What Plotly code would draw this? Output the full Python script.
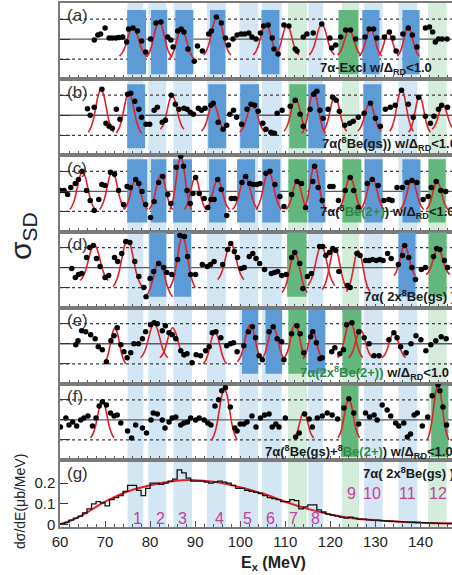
import plotly.graph_objects as go

# ---------------- data ----------------
band_lo = [75.0, 79.6, 85.2, 92.6, 99.8, 104.8, 110.6, 115.1, 122.6, 127.5, 135.1, 141.7]
band_hi = [78.5, 83.6, 89.3, 96.8, 104.0, 109.2, 114.8, 118.4, 126.4, 131.6, 139.3, 145.8]
band_kind = ["b", "b", "b", "b", "b", "b", "g", "b", "g", "b", "b", "g"]
band_num = ["1", "2", "3", "4", "5", "6", "7", "8", "9", "10", "11", "12"]
num_x = [77.1, 82.2, 87.1, 95.3, 101.6, 106.7, 111.8, 116.7, 124.7, 129.3, 137.1, 144.0]
num_y = [0.03, 0.03, 0.03, 0.03, 0.03, 0.03, 0.03, 0.03, 0.15, 0.15, 0.15, 0.15]

# dots (E, sigma) per panel
a_pts = [(67.6, -0.05), (68.4, 0.2), (69.0, 0.25), (70.0, 0.55), (70.9, 0.05), (71.6, 0.05), (72.4, 0.05),
         (73.1, 0.08), (73.9, 0.1), (74.8, -0.15), (75.2, 0.5), (76.2, 0.55), (77.2, 0.4), (78.1, -0.1),
         (79.0, -0.65), (80.1, 0.0), (81.3, 0.8), (82.4, 0.85), (83.9, 0.1), (84.6, -0.05), (85.1, -0.4),
         (86.1, 0.4), (86.9, 0.5), (87.5, 0.35), (88.4, -0.5), (89.8, -1.1), (90.5, -0.35), (91.6, -0.6),
         (93.0, 0.25), (93.6, 0.4), (94.7, 1.1), (95.8, 0.8), (96.7, 0.05), (97.4, -0.3), (98.4, 0.0),
         (99.3, 0.2), (100.2, 0.25), (101.0, 0.25), (101.9, 0.3), (102.6, 0.1), (103.5, 0.0), (104.5, 0.3),
         (105.2, 0.65), (106.2, 0.7), (107.1, 0.05), (107.5, -0.5), (108.4, -0.75), (109.7, 0.7),
         (110.8, 0.65), (112.2, -0.5), (112.6, -0.6), (114.0, 0.1), (114.8, 0.25), (116.2, 0.3),
         (118.1, 0.75), (119.9, 0.05), (120.3, -0.45), (121.2, -0.3), (122.3, 0.1), (123.4, 0.45),
         (124.5, 0.45), (125.6, 0.0), (127.7, 0.1), (128.6, 0.5), (129.6, 0.5), (130.3, 0.05), (132.0, 0.1),
         (133.1, 0.35), (133.9, 0.05), (134.6, -0.6), (136.1, 0.25), (137.3, 0.55), (138.2, 0.2),
         (139.2, -0.4), (141.1, 0.55), (142.0, 0.6), (142.7, 0.35), (143.3, -0.15), (144.0, 0.0),
         (144.8, 0.0), (145.9, 0.0)]
b_pts = [(66.1, 0.33), (66.7, 0.0), (67.6, 0.4), (69.3, 1.3), (70.2, -0.4), (70.9, -0.55), (71.6, -0.65),
         (72.5, 0.3), (73.3, -0.2), (75.0, 1.05), (75.7, 1.1), (76.6, 0.7), (77.5, 0.3), (78.1, -0.1),
         (79.1, -0.45), (79.9, -0.45), (80.9, 0.25), (81.6, 0.4), (82.7, -0.35), (83.4, -0.25), (84.7, 1.0),
         (85.6, 0.55), (86.4, 0.3), (87.5, 0.35), (88.2, 0.3), (88.9, 0.15), (89.6, 0.05), (90.7, 0.35),
         (91.4, 0.25), (92.2, 0.35), (93.5, 0.5), (94.0, 0.6), (95.1, -0.35), (96.2, -0.7), (97.0, -0.5),
         (97.7, 0.05), (98.5, 0.25), (99.2, -0.1), (100.3, -0.45), (101.5, 0.3), (102.4, 0.55), (103.2, 0.5),
         (104.0, 0.2), (105.0, -0.4), (105.7, -0.7), (106.8, -0.85), (107.6, -0.9), (108.2, 0.1),
         (109.3, 0.25), (111.1, 0.45), (112.2, 0.75), (113.3, 0.05), (114.0, -0.55), (115.5, 0.3),
         (116.3, 1.05), (117.0, 1.2), (117.7, 0.25), (118.4, -0.15), (119.5, 0.3), (120.5, 0.9),
         (121.3, 0.75), (122.0, 0.2), (123.2, -0.5), (124.3, -0.4), (125.1, -0.3), (126.2, -0.1),
         (127.5, 0.1), (128.9, 0.6), (130.0, -0.15), (131.1, -0.55), (132.2, 0.3), (133.3, 0.4),
         (134.4, 0.5), (135.8, 1.25), (137.3, 0.55), (138.4, -0.1), (139.6, 0.9), (141.1, -0.05),
         (142.2, -0.4), (143.0, -0.05), (144.0, 0.3), (144.7, 0.5), (146.0, 0.4)]
c_pts = [(60.1, 0.05), (60.9, 0.05), (61.7, -0.15), (62.4, 0.2), (63.4, 0.4), (64.1, 0.6), (64.9, 1.0),
         (65.9, 0.05), (66.7, -0.45), (67.6, -0.95), (68.6, -0.4), (69.3, 0.35), (70.0, 0.3), (71.2, 0.95),
         (72.1, 0.85), (73.0, 0.05), (74.1, -0.65), (74.9, 0.25), (75.6, 0.2), (76.8, 0.6), (77.5, 0.4),
         (78.2, 0.0), (79.0, -0.65), (80.1, -1.3), (80.9, -0.5), (81.9, 0.45), (82.8, 0.75), (83.9, -0.15),
         (84.6, -0.6), (85.8, 1.2), (86.8, 1.75), (87.4, 1.25), (88.2, 0.05), (88.9, -0.6), (89.5, -0.1),
         (90.1, 0.7), (90.9, -0.1), (92.0, -0.35), (92.8, -0.8), (93.5, -0.4), (94.2, -0.4), (95.0, 0.6),
         (95.8, 0.1), (97.0, -1.2), (98.0, -0.35), (98.8, -0.35), (100.4, 0.45), (101.2, 0.75),
         (102.1, 0.4), (102.9, 0.35), (103.7, 0.35), (104.4, 0.4), (105.7, 0.9), (106.6, 1.0),
         (107.7, 0.35), (108.8, -0.25), (109.7, -0.75), (111.4, -0.15), (112.6, 0.5), (113.6, 0.4),
         (114.5, -0.8), (116.1, 0.5), (116.5, 1.25), (117.3, 0.2), (118.2, -0.45), (119.9, 0.25),
         (120.6, 0.25), (121.8, -0.45), (123.3, 0.05), (124.4, 0.7), (125.2, 0.05), (126.2, -0.8),
         (128.2, 0.4), (129.3, 0.6), (130.6, 0.3), (131.9, -0.45), (133.0, -0.4), (133.7, -0.45),
         (134.8, 0.2), (136.0, 0.2), (137.0, 0.45), (138.1, 0.55), (139.2, 0.45), (140.6, -0.4),
         (141.7, -0.25), (142.4, 0.2), (143.5, 0.5), (144.5, 0.05), (145.6, 0.0)]
d_pts = [(62.6, -0.05), (63.4, -0.5), (64.1, -0.35), (64.8, -0.3), (65.9, 0.5), (66.6, 1.0), (67.4, 1.1),
         (68.1, 0.45), (68.9, 0.05), (70.0, -0.5), (70.8, -0.4), (72.1, 0.5), (72.8, 0.3), (73.7, 0.7),
         (74.6, 1.3), (75.5, 1.25), (76.6, 0.3), (77.5, -0.45), (78.6, -1.0), (79.1, -1.45), (80.0, -0.55),
         (80.8, -0.2), (81.9, 0.2), (83.0, 0.0), (83.7, -0.25), (84.8, -0.35), (86.1, 0.4), (86.6, 1.6),
         (87.6, 1.55), (88.3, 0.55), (89.0, -0.35), (90.1, -0.35), (91.6, 0.15), (92.7, 0.05), (93.4, 0.15),
         (94.2, 0.3), (96.1, 0.15), (97.2, 0.9), (97.9, 1.2), (98.7, 0.8), (99.4, 0.5), (100.2, -0.05),
         (100.9, 0.0), (102.0, 0.55), (102.8, 0.7), (103.5, 0.45), (104.3, 0.2), (105.4, -0.1),
         (106.9, -0.3), (107.6, -0.25), (108.3, -0.2), (109.2, -0.4), (110.2, -0.35), (111.4, 0.5),
         (112.1, 0.75), (113.2, 0.2), (113.9, -1.05), (114.9, -0.45), (115.8, -0.3), (117.6, 1.05),
         (118.3, 1.05), (119.0, 0.6), (119.8, 0.75), (120.5, 0.95), (121.2, 0.85), (121.9, -0.2),
         (123.8, -0.9), (124.4, -1.0), (125.9, 0.7), (126.6, 0.6), (127.8, 0.35), (128.6, 0.35),
         (129.4, 0.4), (130.2, 0.35), (131.0, 0.4), (131.7, 0.35), (132.7, 0.7), (133.5, 0.45),
         (135.1, 0.15), (136.0, 0.6), (136.5, 1.1), (137.4, 0.5), (138.1, 0.0), (138.9, -0.6),
         (140.2, -0.1), (141.1, 0.0), (142.9, 0.55), (143.6, 0.95), (144.3, 0.9), (145.3, 0.35), (146.0, 0.0)]
e_pts = [(63.5, -0.05), (64.0, 0.15), (64.8, 0.65), (65.7, 0.6), (66.8, 0.45), (67.8, 0.25), (68.5, -0.15),
         (69.4, -0.3), (70.3, -0.9), (71.3, 0.15), (72.0, 0.4), (72.7, 0.8), (73.5, -0.05), (74.2, -0.4),
         (74.9, -0.7), (75.7, -0.45), (76.4, 0.0), (77.4, 0.0), (78.3, 0.25), (79.0, 0.6), (80.1, 0.95),
         (80.9, 1.05), (81.6, 1.0), (82.7, 0.65), (83.4, 0.9), (84.2, 0.55), (84.9, 0.45), (85.7, 0.25),
         (86.8, -0.35), (87.5, -0.55), (88.2, -0.5), (89.3, -0.95), (90.2, -0.55), (91.2, -0.6),
         (92.3, -0.35), (93.1, -0.15), (93.8, 0.55), (94.6, 0.6), (95.7, 0.3), (97.0, -0.1), (97.8, 0.0),
         (98.5, 0.05), (99.3, -0.4), (100.8, -0.1), (101.8, 0.6), (102.7, 0.85), (103.4, 0.3), (104.2, -0.6),
         (104.9, -0.8), (106.4, 0.6), (107.3, 0.85), (108.2, 0.25), (109.2, 0.1), (109.7, -0.8),
         (111.4, 0.5), (112.6, 0.9), (113.3, 0.5), (114.1, -0.45), (115.6, 0.35), (116.1, 0.6),
         (116.9, 0.05), (117.7, -0.75), (118.2, -0.7), (120.3, -0.4), (121.0, -0.2), (122.1, -0.5),
         (122.9, -0.3), (123.6, 0.95), (124.8, 1.05), (126.3, 0.6), (127.5, 0.3), (128.6, 0.0),
         (129.7, -0.6), (130.8, -0.6), (133.0, 0.2), (134.1, 0.55), (134.8, 0.3), (135.6, -0.15),
         (136.8, -0.45), (137.9, 0.0), (139.0, 0.4), (140.1, 0.2), (141.2, -0.35), (142.3, -0.05),
         (143.4, 0.15), (144.6, 0.35), (145.7, 0.25)]
f_pts = [(60.1, -0.35), (61.3, 0.1), (62.0, -0.25), (62.8, -0.1), (63.7, -0.3), (64.6, 0.0), (65.3, 0.1),
         (66.2, 0.2), (67.2, -0.3), (68.0, 0.1), (68.7, 0.7), (69.4, 0.9), (70.3, 0.75), (71.2, 0.35),
         (72.0, 0.2), (72.7, 0.25), (73.5, -0.15), (75.0, -0.55), (75.9, -0.9), (76.8, -0.25), (78.3, -0.4),
         (79.2, -0.65), (80.2, 0.0), (80.7, 0.35), (81.6, 0.3), (82.7, 0.0), (83.3, -0.4), (84.2, -0.1),
         (84.9, 0.1), (85.7, 0.15), (86.8, -0.25), (87.5, -0.15), (88.3, -0.1), (89.0, 0.1), (90.1, 0.0),
         (90.9, 0.1), (92.0, 0.0), (92.8, -0.15), (93.5, -0.25), (94.4, 0.7), (95.2, 1.0), (95.9, 1.45),
         (96.7, 1.6), (97.8, 0.65), (98.8, -0.4), (99.3, -0.55), (100.0, -0.2), (100.8, -0.2),
         (101.5, -0.1), (102.6, 0.2), (103.5, -0.35), (104.5, 0.1), (105.4, 0.25), (106.4, 0.3),
         (107.1, -0.35), (107.9, -0.2), (108.6, -0.35), (110.0, 0.1), (112.3, -0.85), (113.1, -0.65),
         (114.3, 0.3), (115.3, 0.05), (116.0, -0.35), (117.1, 0.1), (118.2, 0.2), (119.3, 0.35),
         (120.4, 0.25), (121.6, 0.05), (123.0, 0.6), (124.1, 1.05), (125.2, 0.35), (126.3, -0.2),
         (127.8, 0.35), (128.7, 0.15), (129.7, 0.25), (130.4, 0.0), (131.5, 0.75), (132.6, 0.5),
         (133.4, 0.2), (134.5, -0.15), (135.2, -0.3), (136.3, -0.15), (137.1, -0.85), (137.8, -0.7),
         (138.6, 0.25), (139.3, 0.35), (140.4, -0.3), (141.6, 0.15), (142.6, 1.2), (143.9, 1.75),
         (144.3, 1.45), (145.0, 0.65), (145.8, -0.25)]

# fitted peaks per panel: (centre E, top, foot, half-width)
a_peaks = [(76.2, 0.6, -0.85, 3.0), (82.0, 0.9, -0.9, 2.8), (87.0, 0.5, -1.0, 2.8), (94.9, 1.15, -0.8, 3.0),
           (105.7, 0.75, -0.8, 2.8), (110.4, 0.7, -0.8, 2.6), (118.1, 0.75, -0.8, 2.8), (124.2, 0.45, -0.8, 2.6),
           (128.9, 0.5, -0.85, 2.5), (132.9, 0.35, -0.8, 2.2), (137.3, 0.6, -0.85, 2.4)]
b_peaks = [(69.1, 1.3, -0.85, 2.8), (75.3, 1.1, -0.9, 2.8), (84.9, 1.0, -0.7, 2.6), (94.0, 0.6, -0.8, 2.6),
           (102.7, 0.55, -0.85, 2.8), (112.3, 0.8, -0.8, 2.6), (116.3, 1.2, -0.9, 2.6), (121.0, 0.95, -0.8, 2.6),
           (128.7, 0.6, -0.8, 2.6), (135.8, 1.3, -0.8, 2.6), (139.8, 0.95, -0.85, 2.4), (145.0, 0.5, -0.7, 2.4)]
c_peaks = [(65.0, 1.0, -0.9, 2.8), (71.6, 1.0, -0.9, 2.8), (76.8, 0.6, -0.9, 2.6), (82.4, 0.85, -0.9, 2.6),
           (86.8, 1.75, -0.9, 2.4), (90.0, 0.7, -0.9, 2.4), (95.0, 0.6, -0.9, 2.6), (101.1, 0.75, -0.9, 2.8),
           (106.3, 1.0, -0.9, 2.8), (112.6, 0.5, -0.9, 2.4), (116.5, 1.3, -0.9, 2.4), (124.4, 0.7, -0.9, 2.6),
           (129.3, 0.7, -0.9, 2.6), (138.1, 0.55, -0.9, 2.6), (143.7, 0.5, -0.9, 2.4)]
d_peaks = [(67.6, 1.15, -0.65, 3.1), (75.0, 1.4, -0.95, 3.2), (82.0, 0.3, -1.45, 3.0), (87.2, 1.55, -1.0, 2.8),
           (97.9, 1.2, -0.6, 2.9), (112.1, 0.75, -1.25, 2.8), (118.0, 1.1, -0.9, 3.0), (121.0, 1.0, -1.1, 2.8),
           (126.2, 0.85, -1.2, 2.6), (136.5, 1.1, -0.4, 2.4), (143.9, 0.95, -0.35, 2.6)]
e_peaks = [(72.2, 0.8, -1.0, 2.4), (80.9, 1.0, -0.7, 3.0), (85.0, 0.8, -0.7, 2.8), (94.4, 0.6, -1.0, 2.6),
           (102.2, 0.95, -0.9, 2.8), (107.3, 0.85, -0.8, 2.6), (112.2, 1.0, -0.7, 2.4), (116.1, 0.6, -0.75, 2.2),
           (124.4, 1.1, -0.7, 2.8), (126.7, 0.7, -0.7, 2.6), (134.1, 0.55, -0.7, 2.6)]
f_peaks = [(69.4, 0.95, -0.9, 2.6), (96.5, 1.55, -1.0, 2.8), (114.1, 0.4, -0.9, 2.2), (124.1, 1.05, -0.9, 2.4),
           (143.9, 1.75, -1.0, 2.4)]

# darker highlighted regions per panel: (E from, E to, colour kind)
a_rects = [(74.9, 79.1, "b"), (80.2, 83.8, "b"), (85.6, 89.6, "b"), (93.3, 96.7, "b"), (104.7, 108.7, "b"),
           (121.8, 126.2, "g"), (127.1, 130.9, "b"), (136.0, 139.8, "b")]
b_rects = [(74.9, 78.9, "b"), (92.9, 96.9, "b"), (100.0, 104.2, "b"), (110.9, 114.7, "g"), (115.1, 118.9, "b"),
           (127.3, 131.3, "b")]
c_rects = [(74.9, 79.4, "b"), (80.2, 83.6, "b"), (85.1, 89.3, "b"), (93.1, 96.9, "b"), (99.3, 103.3, "b"),
           (104.9, 108.9, "b"), (110.7, 114.9, "g"), (115.1, 118.9, "b"), (122.7, 126.9, "g"), (127.6, 131.6, "b"),
           (136.0, 140.0, "b"), (141.8, 145.6, "g")]
d_rects = [(79.8, 83.6, "b"), (85.3, 89.1, "b"), (110.4, 114.7, "g"), (135.1, 138.9, "b"), (141.8, 145.8, "g")]
e_rects = [(100.4, 104.0, "b"), (105.6, 109.3, "b"), (110.7, 114.7, "g"), (115.1, 118.9, "b"), (122.7, 126.9, "g")]
f_rects = [(122.4, 126.2, "g"), (142.4, 146.2, "g")]

panel_tags = ["(a)", "(b)", "(c)", "(d)", "(e)", "(f)", "(g)"]
GREEN = "#2f8a45"
panel_titles = [
    "7α-Excl w/Δ<sub>RD</sub>&lt;1.0",
    "7α(<sup>8</sup>Be(gs)) w/Δ<sub>RD</sub>&lt;1.0",
    "7α(<sup>8</sup><span style='color:%s'>Be(2+)</span>) w/Δ<sub>RD</sub>&lt;1.0" % GREEN,
    "7α( 2x<sup>8</sup>Be(gs) )",
    "<span style='color:%s'>7α(2x<sup>8</sup>Be(2+))</span> w/Δ<sub>RD</sub>&lt;1.0" % GREEN,
    "7α(<sup>8</sup>Be(gs)+<sup>8</sup><span style='color:%s'>Be(2+)</span>) w/Δ<sub>RD</sub>&lt;1.0" % GREEN,
    "7α( 2x<sup>8</sup>Be(gs) )",
]
title_x = [318, 320, 318, 362, 298, 263, 361]      # px left edge of text
title_y = [0.145, 0.15, 0.256, 0.154, 0.142, 0.105, 0.806]

# panel (g): cross-section histogram (1 MeV bins starting at 60)
hist_lo = list(range(60, 148))
hist_val = [0.003, 0.008, 0.02, 0.03, 0.04, 0.055, 0.075, 0.1, 0.11, 0.105, 0.09, 0.12, 0.13, 0.14, 0.16, 0.19,
            0.19, 0.165, 0.14, 0.175, 0.2, 0.2, 0.195, 0.2, 0.21, 0.22, 0.265, 0.25, 0.225, 0.21, 0.21, 0.21,
            0.205, 0.2, 0.205, 0.21, 0.205, 0.2, 0.19, 0.175, 0.175, 0.165, 0.16, 0.155, 0.15, 0.14, 0.13, 0.125,
            0.12, 0.11, 0.11, 0.12, 0.115, 0.075, 0.085, 0.095, 0.095, 0.07, 0.06, 0.05, 0.045, 0.04, 0.035,
            0.03, 0.035, 0.03, 0.025, 0.025, 0.022, 0.02, 0.02, 0.018, 0.017, 0.015, 0.014, 0.013, 0.012, 0.011,
            0.01, 0.009, 0.008, 0.007, 0.007, 0.006, 0.005, 0.005, 0.004, 0.004]
g_fit_E = [60, 62, 65, 68, 70, 75, 80, 85, 90, 95, 100, 105, 110, 115, 120, 125, 130, 135, 140, 147]
g_fit_v = [0.0, 0.015, 0.045, 0.085, 0.11, 0.16, 0.19, 0.21, 0.215, 0.205, 0.18, 0.15, 0.11, 0.075, 0.048,
           0.03, 0.02, 0.013, 0.008, 0.004]

# ---------------- layout geometry ----------------
W, H = 452, 575
ML, MR, MT, MB = 60, 0, 3, 48
XR = [60, 147]
g_frac = 67 / 524
p_frac = (1 - g_frac) / 6
domains = []
for i in range(6):
    top = 1 - i * p_frac
    domains.append([top - p_frac, top])
domains.append([0, g_frac])

FONT = "Liberation Sans, Arial, sans-serif"
RED = "#e3202a"
LB, LG = "#d3e6f3", "#d4ecdb"
DB, DG = "#5d9bd6", "#63b67c"

fig = go.Figure()
pts_all = [a_pts, b_pts, c_pts, d_pts, e_pts, f_pts]
peaks_all = [a_peaks, b_peaks, c_peaks, d_peaks, e_peaks, f_peaks]
rects_all = [a_rects, b_rects, c_rects, d_rects, e_rects, f_rects]
rect_ext = [(-1.75, 1.45), (-1.65, 1.55), (-1.55, 1.6), (-1.45, 1.75), (-1.5, 1.7), (-1.85, 1.7)]

shapes = []
# light bands spanning all panels
for lo, hi, k in zip(band_lo, band_hi, band_kind):
    shapes.append(dict(type="rect", xref="x", yref="paper", x0=lo, x1=hi, y0=0, y1=1,
                       fillcolor=LB if k == "b" else LG, line_width=0, layer="below"))

# bell-shape template (fraction of the fitted height at offsets in units of half-width)
offs = [-1.0, -0.8, -0.6, -0.4, -0.2, 0.0, 0.2, 0.4, 0.6, 0.8, 1.0]
frac = [0.0, 0.11, 0.3, 0.6, 0.88, 1.0, 0.88, 0.6, 0.3, 0.11, 0.0]

for i in range(6):
    xn = "x" if i == 0 else "x%d" % (i + 1)
    yn = "y" if i == 0 else "y%d" % (i + 1)
    y0r, y1r = rect_ext[i]
    for lo, hi, k in rects_all[i]:
        shapes.append(dict(type="rect", xref=xn, yref=yn, x0=lo, x1=hi, y0=y0r, y1=y1r,
                           fillcolor=DB if k == "b" else DG, line_width=0, layer="below"))
    for lvl, dash in [(1, "dot"), (0, "solid"), (-1, "dot")]:
        shapes.append(dict(type="line", xref=xn + " domain", yref=yn, x0=0, x1=1, y0=lvl, y1=lvl,
                           line=dict(color="#3a3a3a" if dash == "dot" else "#5a5a5a",
                                     width=1.3 if dash == "dot" else 1.4, dash=dash), layer="below"))
    # fitted curves
    cx, cy = [], []
    for c, top, foot, hw in peaks_all[i]:
        for o, f in zip(offs, frac):
            cx.append(c + o * hw)
            cy.append(foot + f * (top - foot))
        cx.append(None)
        cy.append(None)
    fig.add_trace(go.Scatter(x=cx, y=cy, mode="lines", xaxis=xn, yaxis=yn,
                             line=dict(color=RED, width=1.6, shape="spline", smoothing=0.8),
                             showlegend=False, hoverinfo="skip"))
    fig.add_trace(go.Scatter(x=[p[0] for p in pts_all[i]], y=[p[1] for p in pts_all[i]], mode="markers",
                             xaxis=xn, yaxis=yn, marker=dict(color="black", size=5.5),
                             showlegend=False))

# panel g
fig.add_trace(go.Scatter(x=g_fit_E, y=g_fit_v, mode="lines", xaxis="x7", yaxis="y7",
                         line=dict(color=RED, width=2, shape="spline"), showlegend=False))
fig.add_trace(go.Scatter(x=hist_lo, y=hist_val + [hist_val[-1]], mode="lines", xaxis="x7", yaxis="y7",
                         line=dict(color="#111", width=1.3, shape="hv"), showlegend=False))

layout = dict(width=W, height=H, margin=dict(l=ML, r=MR, t=MT, b=MB),
              paper_bgcolor="white", plot_bgcolor="white", showlegend=False,
              font=dict(family=FONT, color="#222"))
for i in range(7):
    xk = "xaxis" if i == 0 else "xaxis%d" % (i + 1)
    yk = "yaxis" if i == 0 else "yaxis%d" % (i + 1)
    yn = "y" if i == 0 else "y%d" % (i + 1)
    xn = "x" if i == 0 else "x%d" % (i + 1)
    xa = dict(domain=[0, 1], anchor=yn, range=XR, showline=True, mirror=True, linecolor="#7a7a7a",
              linewidth=2, showgrid=False, zeroline=False, ticks="inside", tickcolor="#555",
              ticklen=4, tick0=60, dtick=2, showticklabels=False)
    if i > 0:
        xa["matches"] = "x"
    if i == 6:
        xa.update(dtick=10, ticklen=6, showticklabels=True, tickfont=dict(size=15, color="#222"),
                  minor=dict(ticks="inside", dtick=2, ticklen=3, tickcolor="#555"))
    layout[xk] = xa
    ya = dict(domain=domains[i], anchor=xn, showline=True, mirror=False, linecolor="#7a7a7a", linewidth=1.5,
              showgrid=False, zeroline=False, ticks="inside", tickcolor="#333", ticklen=10,
              showticklabels=False, fixedrange=True)
    if i < 6:
        ya.update(range=[-2.0, 1.8], tickvals=[-1, 0, 1])
    else:
        ya.update(range=[-0.013, 0.313], tickvals=[0, 0.1, 0.2], ticktext=["0", "0.1", "0.2"],
                  showticklabels=True, ticklen=8, tickfont=dict(size=15, color="#222"))
    layout[yk] = ya
layout["shapes"] = shapes

ann = []
for i in range(7):
    xn = "x" if i == 0 else "x%d" % (i + 1)
    yn = "y" if i == 0 else "y%d" % (i + 1)
    h = 76.2 if i < 6 else 67
    ann.append(dict(xref=xn + " domain", yref=yn + " domain", x=0.012, y=1 - 13 / h, xanchor="left",
                    yanchor="middle", text=panel_tags[i], showarrow=False,
                    font=dict(size=17, color="#333", family=FONT)))
    ann.append(dict(xref="paper", yref=yn + " domain", x=(title_x[i] - ML) / (W - ML - MR), y=title_y[i],
                    xanchor="left", yanchor="middle", text="<b>" + panel_titles[i] + "</b>", showarrow=False,
                    font=dict(size=13, color="#1a1a1a", family=FONT)))
for t, x, y in zip(band_num, num_x, num_y):
    ann.append(dict(xref="x7", yref="y7", x=x, y=y, text=t, showarrow=False, xanchor="center",
                    yanchor="middle", font=dict(size=16, color="#c0409c", family=FONT)))
ann.append(dict(xref="paper", yref="paper", x=(22 - ML) / (W - ML), y=(527 - 236) / 524,
                xanchor="center", yanchor="middle",
                text="σ<sub>SD</sub>", textangle=-90, showarrow=False,
                font=dict(size=30, color="#222", family=FONT)))
ann.append(dict(xref="paper", yref="paper", x=(20 - ML) / (W - ML), y=(527 - 502) / 524,
                xanchor="center", yanchor="middle",
                text="dσ/dE(μb/MeV)", textangle=-90, showarrow=False,
                font=dict(size=14, color="#222", family=FONT)))
ann.append(dict(xref="paper", yref="paper", x=(273 - ML) / (W - ML), y=(527 - 563) / 524,
                xanchor="center", yanchor="middle",
                text="<b>E<sub>x</sub> (MeV)</b>", showarrow=False,
                font=dict(size=16, color="#222", family=FONT)))
layout["annotations"] = ann

fig.update_layout(**layout)
fig.write_html("out.html")
